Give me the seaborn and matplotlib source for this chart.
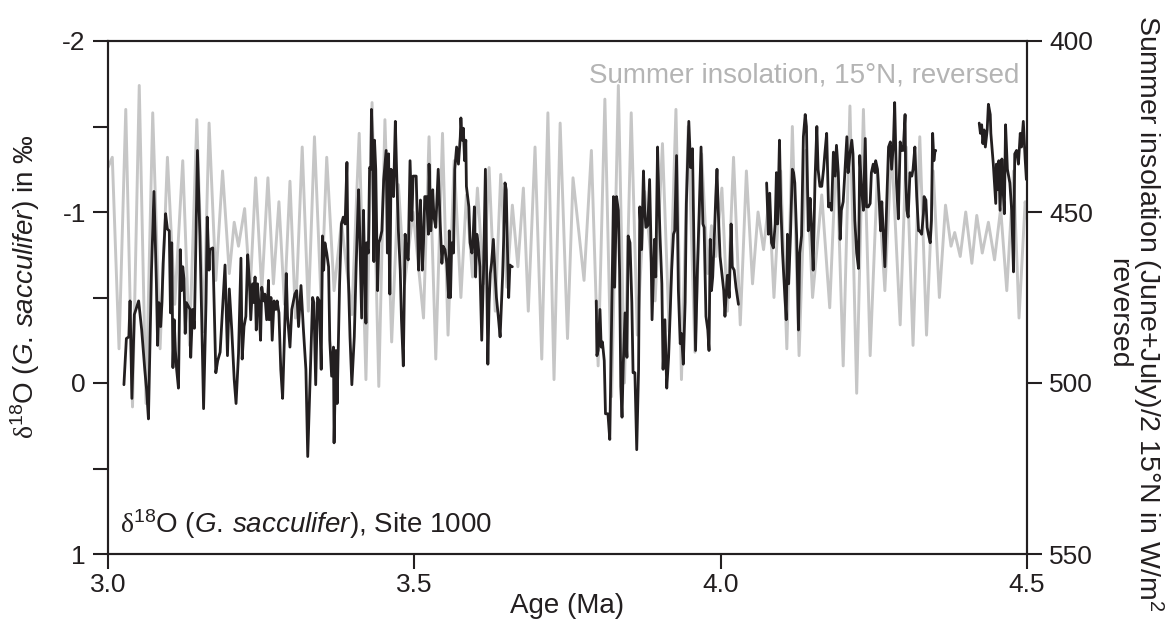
import numpy as np
import pandas as pd
import matplotlib
matplotlib.use("Agg")
import matplotlib.pyplot as plt
import seaborn as sns

# ---------------- data ----------------
# delta18O of G. sacculifer, Site 1000 (per mil), four continuous segments
age_a = [3.026, 3.030, 3.034, 3.036, 3.039, 3.043, 3.050, 3.055, 3.060, 3.063, 3.066, 3.071, 3.075, 3.079,
         3.081, 3.083, 3.086, 3.088, 3.090, 3.094, 3.097, 3.100, 3.101, 3.102, 3.104, 3.106, 3.108, 3.110,
         3.112, 3.115, 3.118, 3.120, 3.122, 3.124, 3.126, 3.128, 3.131, 3.134, 3.135, 3.138, 3.141, 3.146,
         3.150, 3.153, 3.156, 3.160, 3.162, 3.165, 3.166, 3.171, 3.176, 3.179, 3.183, 3.187, 3.191, 3.195,
         3.198, 3.202, 3.206, 3.209, 3.213, 3.217, 3.219, 3.222, 3.225, 3.228, 3.231, 3.233, 3.236, 3.238,
         3.240, 3.242, 3.244, 3.246, 3.249, 3.251, 3.254, 3.256, 3.259, 3.262, 3.263, 3.266, 3.268, 3.271,
         3.274, 3.276, 3.279, 3.282, 3.285, 3.288, 3.291, 3.293, 3.297, 3.300, 3.305, 3.308, 3.311, 3.315,
         3.319, 3.323, 3.326, 3.330, 3.334, 3.336, 3.339, 3.342, 3.345, 3.348, 3.350, 3.352, 3.354, 3.357,
         3.360, 3.362, 3.365, 3.368, 3.369, 3.372, 3.374, 3.378, 3.381, 3.384, 3.387, 3.390, 3.392, 3.395,
         3.398, 3.402, 3.405, 3.409, 3.411, 3.414, 3.417, 3.418, 3.421, 3.422, 3.425, 3.427, 3.429, 3.430,
         3.432, 3.434, 3.435, 3.437, 3.440, 3.442, 3.444, 3.447, 3.450, 3.454, 3.456, 3.458, 3.460, 3.462,
         3.464, 3.466, 3.469, 3.471, 3.474, 3.477, 3.479, 3.482, 3.485, 3.487, 3.490, 3.493, 3.496, 3.498,
         3.503, 3.507, 3.508, 3.510, 3.513, 3.515, 3.517, 3.520, 3.523, 3.524, 3.527, 3.530, 3.532, 3.535,
         3.539, 3.542, 3.545, 3.547, 3.550, 3.553, 3.556, 3.557, 3.559, 3.561, 3.564, 3.566, 3.569, 3.572,
         3.575, 3.576, 3.578, 3.580, 3.582, 3.584, 3.585, 3.589, 3.591, 3.594, 3.596, 3.598, 3.600, 3.602,
         3.604, 3.607, 3.610, 3.613, 3.616, 3.620, 3.622, 3.624, 3.626, 3.629, 3.632, 3.634, 3.637, 3.640,
         3.644, 3.646, 3.648, 3.650, 3.652, 3.654, 3.656, 3.659, 3.660]
d18o_a = [0.01, -0.26, -0.27, -0.48, 0.09, -0.40, -0.48, -0.31, -0.08, 0.04, 0.21, -0.66, -1.12, -0.58,
          -0.22, -0.47, -0.33, -0.47, -0.70, -0.99, -0.90, -0.89, -0.66, -0.41, -0.82, -0.09, -0.37, -0.19,
          -0.08, 0.03, -0.78, -0.54, -0.68, -0.61, -0.29, -0.47, -0.45, -0.43, -0.15, -0.43, -0.32, -1.36,
          -0.86, -0.37, 0.15, -0.47, -0.97, -0.66, -0.78, -0.79, -0.06, -0.13, -0.18, -0.43, -0.69, -0.16,
          -0.55, -0.31, -0.02, 0.12, -0.17, -0.73, -0.14, -0.33, -0.39, -0.75, -0.58, -0.37, -0.58, -0.47,
          -0.62, -0.31, -0.58, -0.48, -0.25, -0.56, -0.48, -0.52, -0.37, -0.60, -0.37, -0.50, -0.25, -0.48,
          -0.43, -0.48, -0.41, -0.08, 0.09, -0.27, -0.64, -0.39, -0.21, -0.43, -0.52, -0.54, -0.33, -0.57,
          -0.31, -0.08, 0.43, -0.04, -0.50, -0.47, 0.01, -0.50, -0.48, -0.08, -0.86, -0.66, -0.82, -0.76,
          -0.68, -0.25, -0.04, -0.21, 0.35, -0.19, 0.12, -0.58, -0.93, -0.97, -0.93, -1.29, -0.66, -0.27,
          0.01, -0.27, -0.68, -1.13, -0.86, -0.38, -1.01, -0.82, -0.35, -0.82, -0.76, -1.26, -1.25, -1.60,
          -1.36, -0.71, -1.42, -1.25, -0.54, -0.82, -0.84, -0.89, -1.19, -1.36, -0.76, -1.34, -0.52, -1.25,
          -1.15, -1.09, -1.53, -1.25, -0.89, -0.66, -0.37, -0.10, -0.87, -0.76, -0.72, -1.30, -0.95, -1.21,
          -1.21, -0.66, -0.89, -1.07, -0.66, -0.82, -1.09, -1.09, -0.87, -1.28, -0.89, -1.13, -0.97, -0.91,
          -1.25, -0.95, -0.70, -0.80, -0.78, -0.70, -0.50, -0.89, -0.50, -0.82, -0.76, -1.25, -1.38, -1.28,
          -1.44, -1.55, -1.42, -1.49, -1.30, -1.42, -1.15, -1.03, -0.82, -0.76, -0.86, -1.03, -0.62, -0.87,
          -0.82, -0.68, -0.25, -0.66, -1.25, -0.11, -0.47, -0.64, -0.70, -0.84, -0.62, -0.50, -0.39, -0.27,
          -0.62, -0.86, -1.17, -1.13, -0.78, -0.50, -0.69, -0.68, -0.68]

age_b = [3.797, 3.798, 3.800, 3.803, 3.805, 3.807, 3.810, 3.812, 3.816, 3.819, 3.822, 3.825, 3.827, 3.830,
         3.833, 3.835, 3.837, 3.839, 3.841, 3.844, 3.847, 3.849, 3.852, 3.855, 3.857, 3.860, 3.863, 3.866,
         3.868, 3.871, 3.874, 3.876, 3.878, 3.881, 3.884, 3.886, 3.888, 3.892, 3.894, 3.897, 3.899, 3.901,
         3.904, 3.906, 3.909, 3.912, 3.915, 3.917, 3.920, 3.923, 3.925, 3.928, 3.931, 3.934, 3.936, 3.939,
         3.942, 3.944, 3.948, 3.951, 3.954, 3.957, 3.959, 3.962, 3.965, 3.968, 3.971, 3.973, 3.976, 3.979,
         3.981, 3.983, 3.985, 3.987, 3.990, 3.992, 3.994, 3.996, 3.999, 4.002, 4.005, 4.007, 4.010, 4.011,
         4.014, 4.017, 4.019, 4.022, 4.025, 4.029]
d18o_b = [-0.48, -0.16, -0.19, -0.43, -0.21, -0.24, -0.13, 0.18, 0.18, 0.33, -0.37, -1.09, -0.56, -1.09,
          -1.01, -0.66, 0.02, 0.20, -0.11, -0.41, -0.15, -0.86, -0.82, -0.47, -0.06, -0.06, 0.39, -0.08,
          -1.03, -0.78, -1.24, -1.01, -0.91, -0.92, -1.19, -0.86, -0.37, -0.84, -0.62, -1.38, -1.09, -0.86,
          -0.58, -0.08, -0.37, 0.03, -0.15, -0.35, -0.66, -0.87, -0.89, -1.33, -0.54, -0.23, -0.29, -0.11,
          -0.47, -1.05, -1.53, -1.26, -1.37, -0.66, -0.19, -0.66, -1.01, -1.38, -0.93, -0.91, -0.39, -0.31,
          -0.19, -0.84, -0.54, -0.62, -0.89, -1.09, -1.25, -1.01, -0.74, -0.64, -0.54, -0.39, -0.58, -0.63,
          -0.50, -0.93, -0.68, -0.66, -0.56, -0.46]

age_c = [4.075, 4.078, 4.080, 4.083, 4.086, 4.089, 4.091, 4.093, 4.096, 4.098, 4.101, 4.104, 4.107, 4.109,
         4.111, 4.114, 4.117, 4.119, 4.121, 4.124, 4.127, 4.129, 4.132, 4.135, 4.138, 4.140, 4.143, 4.146,
         4.148, 4.151, 4.154, 4.157, 4.159, 4.162, 4.165, 4.168, 4.170, 4.173, 4.176, 4.178, 4.181, 4.184,
         4.187, 4.189, 4.192, 4.195, 4.197, 4.200, 4.203, 4.206, 4.208, 4.211, 4.214, 4.216, 4.219, 4.222,
         4.225, 4.227, 4.230, 4.233, 4.236, 4.238, 4.241, 4.244, 4.246, 4.249, 4.252, 4.253, 4.256, 4.259,
         4.261, 4.263, 4.265, 4.268, 4.271, 4.274, 4.277, 4.279, 4.282, 4.284, 4.287, 4.290, 4.293, 4.295,
         4.298, 4.301, 4.302, 4.304, 4.306, 4.309, 4.312, 4.314, 4.317, 4.320, 4.323, 4.325, 4.328, 4.331,
         4.332, 4.335, 4.337, 4.339, 4.342, 4.344, 4.346, 4.348, 4.350, 4.351]
d18o_c = [-1.17, -0.87, -1.11, -0.82, -0.79, -0.93, -1.23, -0.93, -1.42, -1.05, -0.76, -0.56, -0.37, -0.87,
          -0.58, -0.87, -1.25, -1.23, -1.17, -0.86, -0.31, -0.76, -0.86, -1.44, -1.57, -1.50, -0.89, -1.08,
          -0.93, -0.66, -1.19, -1.50, -1.25, -1.15, -1.15, -1.25, -1.34, -1.46, -1.03, -1.05, -1.01, -1.35,
          -1.21, -1.39, -1.23, -0.84, -1.01, -1.06, -1.25, -1.44, -1.23, -1.34, -1.42, -1.34, -0.95, -0.76,
          -0.67, -1.33, -1.13, -1.01, -1.43, -1.03, -1.03, -1.05, -1.23, -1.28, -1.23, -1.30, -1.25, -1.05,
          -0.89, -1.06, -0.91, -0.68, -1.05, -1.38, -1.41, -1.25, -1.40, -1.64, -1.17, -0.96, -1.41, -1.36,
          -1.36, -1.57, -1.19, -1.01, -0.97, -1.23, -1.21, -1.25, -1.38, -1.09, -0.89, -0.89, -0.87, -0.99,
          -1.09, -1.07, -0.91, -0.87, -0.82, -0.95, -1.46, -1.30, -1.36, -1.36]

age_d = [4.422, 4.424, 4.426, 4.428, 4.430, 4.432, 4.435, 4.437, 4.440, 4.441, 4.445, 4.449, 4.450, 4.452,
         4.454, 4.456, 4.459, 4.461, 4.463, 4.465, 4.468, 4.472, 4.475, 4.478, 4.480, 4.483, 4.486, 4.489,
         4.491, 4.494, 4.497, 4.499]
d18o_d = [-1.52, -1.46, -1.51, -1.40, -1.48, -1.38, -1.48, -1.63, -1.57, -1.46, -1.28, -1.05, -1.28, -1.13,
          -1.30, -1.01, -1.31, -1.13, -0.99, -1.51, -1.25, -1.17, -1.01, -0.65, -1.34, -1.36, -1.28, -1.46,
          -1.38, -1.53, -1.31, -1.19]

# Summer insolation (June+July)/2 at 15N, W/m2 (turning points of the curve)
ins_age = [3.000, 3.007, 3.018, 3.029, 3.040, 3.051, 3.062, 3.073, 3.085, 3.097, 3.109, 3.122, 3.133, 3.145,
           3.156, 3.165, 3.176, 3.187, 3.198, 3.206, 3.213, 3.223, 3.232, 3.241, 3.251, 3.261, 3.270, 3.279,
           3.288, 3.297, 3.306, 3.317, 3.327, 3.337, 3.348, 3.357, 3.369, 3.381, 3.398, 3.410, 3.421, 3.431,
           3.442, 3.452, 3.463, 3.474, 3.484, 3.498, 3.515, 3.524, 3.535, 3.546, 3.555, 3.565, 3.576, 3.585,
           3.595, 3.603, 3.613, 3.622, 3.632, 3.641, 3.651, 3.660, 3.669, 3.678, 3.686, 3.697, 3.708, 3.718,
           3.728, 3.738, 3.750, 3.759, 3.777, 3.789, 3.800, 3.811, 3.822, 3.833, 3.843, 3.854, 3.864, 3.876,
           3.893, 3.905, 3.916, 3.927, 3.936, 3.947, 3.958, 3.969, 3.979, 3.985, 3.992, 4.002, 4.011, 4.021,
           4.032, 4.042, 4.052, 4.061, 4.070, 4.079, 4.087, 4.098, 4.108, 4.117, 4.128, 4.139, 4.150, 4.165,
           4.178, 4.189, 4.200, 4.211, 4.222, 4.233, 4.244, 4.256, 4.268, 4.279, 4.293, 4.303, 4.314, 4.325,
           4.336, 4.347, 4.357, 4.367, 4.376, 4.382, 4.391, 4.400, 4.410, 4.418, 4.427, 4.437, 4.447, 4.457,
           4.467, 4.478, 4.487, 4.497, 4.500]
ins_val = [437, 434, 490, 420, 507, 413, 506, 421, 490, 434, 477, 435, 489, 423,
           485, 424, 470, 438, 468, 453, 460, 449, 473, 440, 473, 440, 471, 447,
           477, 441, 481, 431, 479, 428, 477, 434, 473, 453, 480, 427, 499, 418,
           501, 423, 488, 442, 471, 450, 481, 428, 493, 427, 486, 435, 475, 445,
           469, 443, 471, 437, 479, 439, 472, 448, 466, 443, 479, 431, 493, 421,
           499, 424, 487, 440, 470, 432, 495, 417, 504, 413, 500, 421, 486, 444,
           476, 430, 485, 420, 499, 425, 491, 433, 468, 454, 463, 443, 479, 434,
           483, 438, 471, 450, 461, 446, 475, 438, 490, 425, 492, 432, 475, 445,
           478, 431, 495, 419, 503, 420, 492, 438, 473, 431, 483, 431, 489, 428,
           486, 438, 475, 448, 460, 456, 463, 450, 465, 451, 462, 453, 464, 449,
           473, 438, 481, 447, 452]

x_ticks = [3.0, 3.5, 4.0, 4.5]
x_tick_labels = ["3.0", "3.5", "4.0", "4.5"]
left_ticks = [-2, -1.5, -1, -0.5, 0, 0.5, 1]
left_tick_labels = ["-2", "", "-1", "", "0", "", "1"]
right_ticks = [400, 450, 500, 550]
right_tick_labels = ["400", "450", "500", "550"]

# ---------------- tables ----------------
segs = []
for i, (a, d) in enumerate([(age_a, d18o_a), (age_b, d18o_b), (age_c, d18o_c), (age_d, d18o_d)]):
    segs.append(pd.DataFrame({"age": a, "d18o": d, "seg": i}))
df_d = pd.concat(segs, ignore_index=True)
df_ins = pd.DataFrame({"age": ins_age, "ins": ins_val})

# ---------------- style ----------------
sns.set_theme(style="ticks")
plt.rcParams["font.family"] = ["Liberation Sans", "DejaVu Sans"]
plt.rcParams["mathtext.fontset"] = "custom"
plt.rcParams["mathtext.rm"] = "Liberation Sans"
plt.rcParams["mathtext.it"] = "Liberation Sans:italic"
plt.rcParams["mathtext.sf"] = "Liberation Serif"

TICK_FS = 19
FS = 20
BLACK = "#231f20"
GREY = "#c6c6c6"

fig = plt.figure(figsize=(11.67, 6.27), dpi=100)
ax = fig.add_axes([108 / 1167, 1 - 554 / 627, (1027 - 108) / 1167, (554 - 41) / 627])
ax2 = ax.twinx()

sns.lineplot(data=df_ins, x="age", y="ins", ax=ax2, color=GREY, lw=2.1,
             sort=False, estimator=None, legend=False, solid_joinstyle="round")
sns.lineplot(data=df_d, x="age", y="d18o", units="seg", estimator=None, ax=ax,
             color=BLACK, lw=2.0, sort=False, legend=False)

ax.set_zorder(ax2.get_zorder() + 1)
ax.patch.set_visible(False)

ax.set_xlim(3.0, 4.5)
ax.set_ylim(1, -2)
ax2.set_ylim(550, 400)

ax.set_xticks(x_ticks)
ax.set_xticklabels(x_tick_labels)
ax.set_yticks(left_ticks)
ax.set_yticklabels(left_tick_labels)
ax2.set_yticks(right_ticks)
ax2.set_yticklabels(right_tick_labels)

for a in (ax, ax2):
    a.tick_params(direction="out", length=11, width=1.5, colors=BLACK,
                  labelsize=TICK_FS, pad=5)
    for s in a.spines.values():
        s.set_linewidth(1.5)
        s.set_color(BLACK)
    a.grid(False)
ax.tick_params(axis="x", pad=3)

species = r"($\mathit{G.\,sacculifer}$)"
ax.set_xlabel("Age (Ma)", fontsize=FS, color=BLACK, labelpad=-3)
ax.set_ylabel(r"$\mathsf{\delta}^{18}$O " + species + " in ‰", fontsize=FS, color=BLACK)
ax.yaxis.set_label_coords(-0.072, 0.52)
ax2.set_ylabel("Summer insolation (June+July)/2 15°N in W/m$^2$\nreversed", fontsize=FS + 0.5,
               color=BLACK, rotation=270, va="center", ha="center", linespacing=0.95)
ax2.yaxis.set_label_coords(1.118, 0.47)

ax.text(0.013, 0.041, r"$\mathsf{\delta}^{18}$O " + species + ", Site 1000", transform=ax.transAxes,
        fontsize=FS, color=BLACK, ha="left", va="baseline")
ax.text(0.992, 0.92, "Summer insolation, 15°N, reversed", transform=ax.transAxes,
        fontsize=FS, color="#b4b4b4", ha="right", va="baseline")

fig.savefig("out.png", dpi=100)
